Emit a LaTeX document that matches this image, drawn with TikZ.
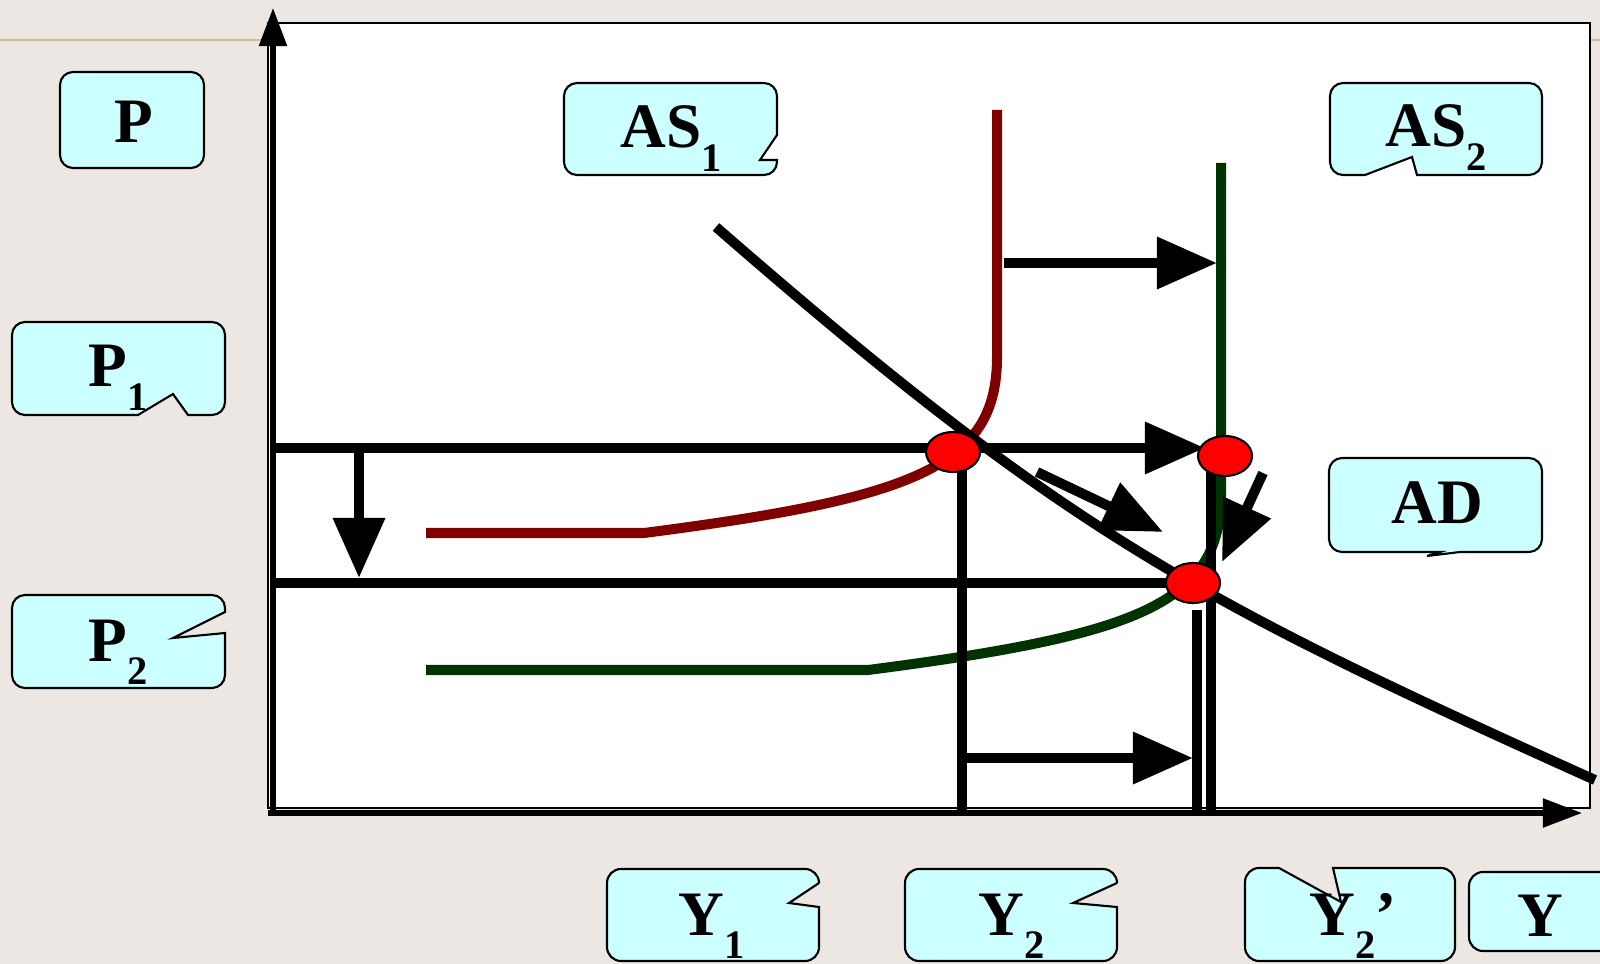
\documentclass[tikz,border=0pt]{standalone}
\usepackage{fontspec}
\setmainfont{Liberation Serif}
\usetikzlibrary{arrows.meta,shapes.geometric}
\definecolor{slidebg}{HTML}{ECE7E3}
\definecolor{rulecol}{HTML}{CDBF8C}
\definecolor{boxcyan}{HTML}{CCFFFF}
\definecolor{asone}{HTML}{800000}
\definecolor{astwo}{HTML}{003300}
\newcommand{\ssub}[1]{\raisebox{-6.8pt}{\fontsize{11.5}{12}\selectfont #1}}

\begin{document}
\begin{tikzpicture}[x=0.01cm,y=-0.01cm,
  lbox/.style={draw=black,line width=0.6pt,fill=boxcyan},
  lab/.style={font=\bfseries\fontsize{18}{20}\selectfont,inner sep=0pt,anchor=base west},
  thickline/.style={line width=1mm},
  shiftarr/.style={line width=1mm,-{Triangle[length=6mm,width=5mm]}},
  dot/.style={ellipse,draw=black,line width=0.6pt,fill=red,minimum width=5.4mm,minimum height=4mm,inner sep=0pt}]
    \fill[slidebg] (0,0) rectangle (1600,964);
    \useasboundingbox (0,0) rectangle (1600,964);
    \draw[rulecol,line width=0.6pt] (0,40) -- (1600,40);
    % plot frame and axes
    \draw[fill=white,line width=0.6pt] (268,23) rectangle (1590,808);
    \draw[line width=1.5pt,-{Triangle[length=3.8mm,width=2.7mm]}] (273,813) -- (273,8);
    \draw[line width=1.5pt,-{Triangle[length=3.9mm,width=2.8mm]}] (268,813) -- (1582,813);
    % equilibria
    \coordinate (E1) at (953,452);
    \coordinate (E2) at (1225,456);
    \coordinate (E3) at (1193,583);
    % price levels
    \draw[shiftarr] (273,448) -- (1205,448);
    \draw[thickline] (273,583) -- (E3);
    \draw[shiftarr] (359,448) -- (359,578);
    % AS1 and AS2
    \draw[thickline,asone] (426,533) -- (644,533) .. controls (914,498) and (997,467) .. (997,357) -- (997,110);
    \draw[thickline,astwo] (426,670) -- (868,670) .. controls (1138,635) and (1221,604) .. (1221,494) -- (1221,163);
    % AD
    \draw[thickline] (716,227) .. controls (1066,532) and (1195,600) .. (1595,780);
    % output levels
    \draw[thickline] (962,452) -- (962,813);
    \draw[thickline] (1211,456) -- (1211,813);
    \draw[thickline] (1197,610) -- (1197,813);
    % shifts
    \draw[shiftarr] (1004,263) -- (1217,263);
    \draw[shiftarr] (962,758) -- (1193,758);
    \draw[shiftarr] (1037,472) -- (1163,532);
    \draw[shiftarr] (1263,473) -- (1222,562);
    \node[dot] (d1) at (E1) {};
    \node[dot] (d2) at (E2) {};
    \node[dot] (d3) at (E3) {};
    % labels
    \draw[lbox,rounded corners=1.3mm] (60,72) rectangle (204,168);
    \node[lab] (p) at (114,143) {P};
    \draw[lbox] (12,370) [rounded corners=1.3mm] -- (12,322) -- (225,322) -- (225,415) [sharp corners] -- (188,415) -- (173,394) -- (138,415) [rounded corners=1.3mm] -- (12,415) -- cycle;
    \node[lab] (p1) at (88,387) {P\ssub{1}};
    \draw[lbox] (12,640) [rounded corners=1.3mm] -- (12,595) -- (225,595) [sharp corners] -- (225,612) -- (173,638) -- (225,633) [rounded corners=1.3mm] -- (225,688) -- (12,688) -- cycle;
    \node[lab] (p2) at (88,661) {P\ssub{2}};
    \draw[lbox] (564,130) [rounded corners=1.3mm] -- (564,83) -- (777,83) [sharp corners] -- (777,135) -- (760,160) -- (777,160) [rounded corners=1.3mm] -- (777,175) -- (564,175) -- cycle;
    \node[lab] (as1) at (620,148) {AS\ssub{1}};
    \draw[lbox] (1330,130) [rounded corners=1.3mm] -- (1330,83) -- (1542,83) -- (1542,175) [sharp corners] -- (1417,175) -- (1412,157) -- (1365,175) [rounded corners=1.3mm] -- (1330,175) -- cycle;
    \node[lab] (as2) at (1385,147) {AS\ssub{2}};
    \draw[lbox] (1329,500) [rounded corners=1.3mm] -- (1329,458) -- (1542,458) -- (1542,552) [sharp corners] -- (1460,552) -- (1427,556) -- (1440,552) [rounded corners=1.3mm] -- (1329,552) -- cycle;
    \node[lab] (ad) at (1391,523) {AD};
    \draw[lbox] (607,915) [rounded corners=1.4mm] -- (607,869) -- (819,869) [sharp corners] -- (819,883) -- (789,903) -- (819,907) [rounded corners=1.4mm] -- (819,961) -- (607,961) -- cycle;
    \node[lab] (y1) at (678,935) {Y\ssub{1}};
    \draw[lbox] (905,915) [rounded corners=1.4mm] -- (905,869) -- (1117,869) [sharp corners] -- (1117,883) -- (1073,903) -- (1117,907) [rounded corners=1.4mm] -- (1117,961) -- (905,961) -- cycle;
    \node[lab] (y2) at (978,935) {Y\ssub{2}};
    \draw[lbox] (1245,915) [rounded corners=1.4mm] -- (1245,868) [sharp corners] -- (1279,868) -- (1341,902) -- (1333,868) [rounded corners=1.4mm] -- (1455,868) -- (1455,961) -- (1245,961) -- cycle;
    \node[lab] (y2p) at (1309,935) {Y\ssub{2}’};
    \draw[lbox,rounded corners=1.4mm] (1469,872) rectangle (1640,951);
    \node[lab] (y) at (1517,936) {Y};
\end{tikzpicture}
\end{document}
